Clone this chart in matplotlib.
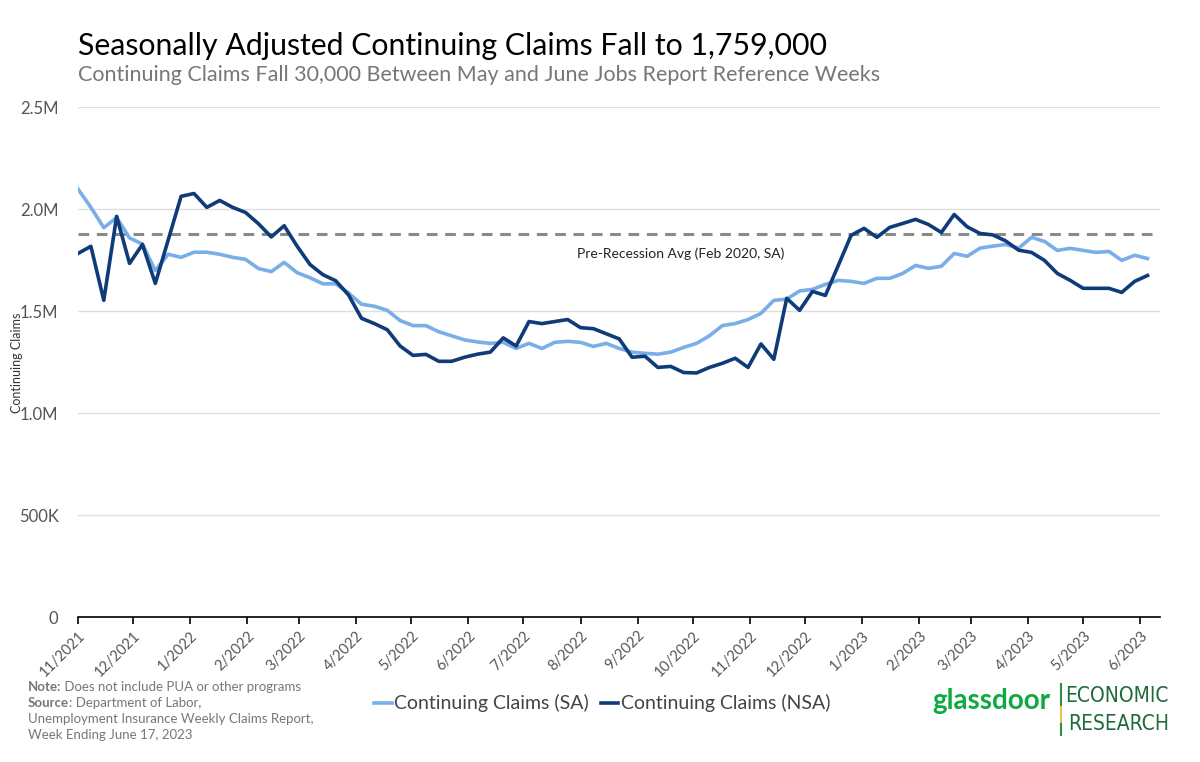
"""Continuing claims chart (SA vs NSA), weekly, Nov 2021 - Jun 2023."""

import matplotlib.pyplot as plt
import matplotlib.dates as mdates
from matplotlib.ticker import FuncFormatter
import pandas as pd

plt.rcParams["font.family"] = ["Lato", "DejaVu Sans"]

# weekly observations, values in millions
weeks = pd.date_range("2021-11-01", periods=84, freq="7D")

sa_claims = [
    2.10, 2.01, 1.91, 1.96, 1.86, 1.83, 1.70, 1.78, 1.765, 1.79,
    1.79, 1.78, 1.765, 1.755, 1.71, 1.695, 1.74, 1.69, 1.665, 1.635,
    1.635, 1.59, 1.535, 1.525, 1.505, 1.455, 1.43, 1.43, 1.40, 1.38,
    1.36, 1.35, 1.343, 1.348, 1.318, 1.343, 1.318, 1.348, 1.353, 1.348,
    1.328, 1.343, 1.318, 1.30, 1.294, 1.29, 1.30, 1.323, 1.343, 1.38,
    1.43, 1.44, 1.46, 1.49, 1.554, 1.56, 1.60, 1.608, 1.632, 1.652,
    1.647, 1.637, 1.662, 1.662, 1.686, 1.725, 1.711, 1.721, 1.784, 1.77,
    1.81, 1.82, 1.828, 1.81, 1.863, 1.843, 1.799, 1.809, 1.799, 1.789,
    1.794, 1.75, 1.775, 1.759,
]

nsa_claims = [
    1.784, 1.819, 1.554, 1.966, 1.735, 1.828, 1.637, 1.85, 2.064, 2.078,
    2.010, 2.044, 2.01, 1.985, 1.93, 1.865, 1.92, 1.82, 1.73, 1.68,
    1.65, 1.58, 1.466, 1.44, 1.41, 1.33, 1.284, 1.289, 1.255, 1.255,
    1.275, 1.29, 1.30, 1.37, 1.33, 1.45, 1.44, 1.45, 1.46, 1.42,
    1.415, 1.39, 1.365, 1.275, 1.28, 1.225, 1.23, 1.20, 1.198, 1.225,
    1.245, 1.27, 1.225, 1.34, 1.265, 1.564, 1.505, 1.598, 1.578, 1.725,
    1.873, 1.907, 1.863, 1.912, 1.931, 1.951, 1.926, 1.887, 1.975, 1.915,
    1.882, 1.875, 1.845, 1.80, 1.789, 1.75, 1.686, 1.652, 1.613, 1.613,
    1.613, 1.593, 1.647, 1.676,
]

pre_recession_avg = 1.877
y_ticks = [0, 0.5, 1.0, 1.5, 2.0, 2.5]
y_tick_labels = ["0", "500K", "1.0M", "1.5M", "2.0M", "2.5M"]

SA_COLOR = "#7AAEE8"
NSA_COLOR = "#0F3C78"
NOTE_COLOR = "#777777"

fig = plt.figure(figsize=(12, 7.62), dpi=100)
ax = fig.add_axes([0.065, 0.190, 0.902, 0.669])

ax.plot(weeks, sa_claims, color=SA_COLOR, lw=2.6, label="Continuing Claims (SA)",
        solid_joinstyle="round")
ax.plot(weeks, nsa_claims, color=NSA_COLOR, lw=2.6, label="Continuing Claims (NSA)",
        solid_joinstyle="round")
ax.axhline(pre_recession_avg, color="#8A8A8A", lw=2.2, ls=(0, (3.5, 2.5)), zorder=1)
ax.text(pd.Timestamp("2022-07-30"), pre_recession_avg - 0.095,
        "Pre-Recession Avg (Feb 2020, SA)", fontsize=10, color="#222222",
        ha="left", va="center")

ax.set_ylim(0, 2.5)
ax.set_yticks(y_ticks)
ax.set_yticklabels(y_tick_labels)
ax.set_xlim(pd.Timestamp("2021-11-01"), pd.Timestamp("2023-06-12"))
ax.xaxis.set_major_locator(mdates.MonthLocator())
ax.xaxis.set_major_formatter(
    FuncFormatter(lambda v, _: f"{mdates.num2date(v).month}/{mdates.num2date(v).year}"))

ax.grid(axis="y", color="#DDDDDD", lw=1)
ax.set_axisbelow(True)
for side in ["top", "right", "left"]:
    ax.spines[side].set_visible(False)
ax.spines["bottom"].set_color("black")
ax.spines["bottom"].set_linewidth(1.2)
ax.tick_params(axis="y", length=0, labelsize=12, labelcolor="#555555", pad=14)
ax.tick_params(axis="x", length=5, width=1.2, direction="out", labelsize=10.5,
               labelcolor="#555555", pad=3)
for lbl in ax.get_xticklabels():
    lbl.set_rotation(45)
    lbl.set_ha("right")
    lbl.set_rotation_mode("anchor")
ax.set_ylabel("Continuing Claims", fontsize=9, color="#333333")
ax.yaxis.set_label_coords(-0.051, 0.5)

fig.text(0.065, 0.940, "Seasonally Adjusted Continuing Claims Fall to 1,759,000",
         fontsize=21.8, color="black", va="center")
fig.text(0.065, 0.902,
         "Continuing Claims Fall 30,000 Between May and June Jobs Report Reference Weeks",
         fontsize=15.5, color="#777777", va="center")

fig.legend(loc="center", bbox_to_anchor=(0.502, 0.077), ncol=2, frameon=False,
           fontsize=14, handlelength=0.9, handletextpad=0.15, columnspacing=0.6,
           labelcolor="#444444")

# note / source block, bold lead-ins followed by regular text
note_y = 0.099
line_gap = 0.021
t = fig.text(0.023, note_y, "Note:", fontsize=9.5, color=NOTE_COLOR, weight="bold",
             va="center")
ax.annotate(" Does not include PUA or other programs", xy=(1, 0.5), xycoords=t,
            fontsize=9.5, color=NOTE_COLOR, va="center", annotation_clip=False)
t = fig.text(0.023, note_y - line_gap, "Source", fontsize=9.5, color=NOTE_COLOR,
             weight="bold", va="center")
ax.annotate(": Department of Labor,", xy=(1, 0.5), xycoords=t, fontsize=9.5,
            color=NOTE_COLOR, va="center", annotation_clip=False)
fig.text(0.023, note_y - 2 * line_gap, "Unemployment Insurance Weekly Claims Report,",
         fontsize=9.5, color=NOTE_COLOR, va="center")
fig.text(0.023, note_y - 3 * line_gap, "Week Ending June 17, 2023", fontsize=9.5,
         color=NOTE_COLOR, va="center")

# logo
fig.text(0.875, 0.080, "glassdoor", fontsize=20, color="#0CAA41", weight="bold",
         ha="right", va="center")
fig.add_artist(plt.Line2D([0.8845, 0.8845], [0.072, 0.103], color="#2E8B4A", lw=1.5))
fig.add_artist(plt.Line2D([0.8845, 0.8845], [0.050, 0.072], color="#E8C547", lw=1.5))
fig.add_artist(plt.Line2D([0.8845, 0.8845], [0.036, 0.050], color="#2E8B4A", lw=1.5))
fig.text(0.974, 0.087, "ECONOMIC", fontsize=15, color="#1E6B3A",
         family="DejaVu Sans", stretch="condensed", ha="right", va="center")
fig.text(0.974, 0.050, "RESEARCH", fontsize=15, color="#1E6B3A",
         family="DejaVu Sans", stretch="condensed", ha="right", va="center")

fig.savefig("out.png", dpi=100, facecolor="white")
